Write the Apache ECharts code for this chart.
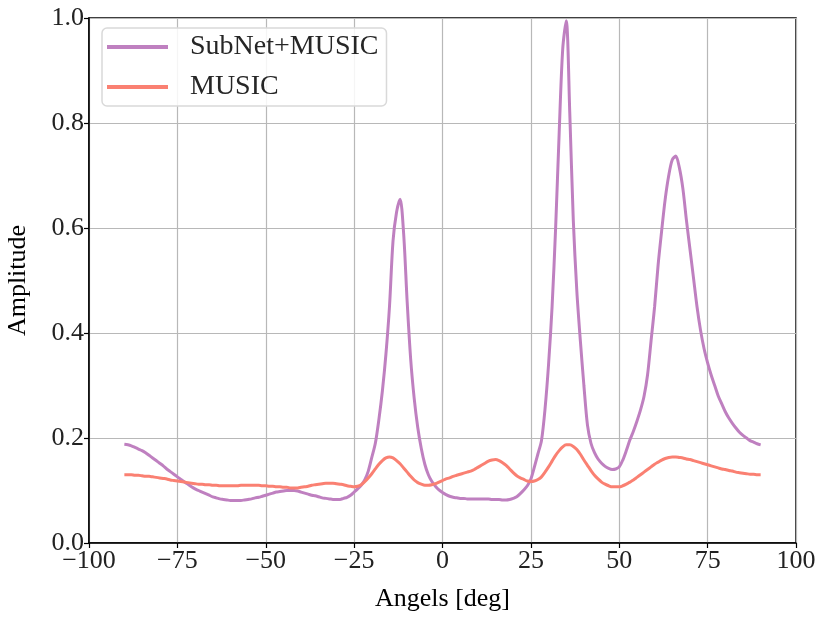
<!DOCTYPE html>
<html>
<head>
<meta charset="utf-8">
<script src="https://cdn.jsdelivr.net/npm/echarts@6/dist/echarts.min.js"></script>
<style>
html,body{margin:0;padding:0;background:#fff;}
#chart{width:830px;height:622px;}
</style>
</head>
<body>
<div id="chart"></div>
<script>
// SubNet+MUSIC spectrum: one value per degree, -90 .. 90
const subnetStart = -90;
const subnetStep = 1;
const subnetValues = [
  .188,.187,.185,.182,.179,.176,.172,.167,.162,.157,
  .152,.147,.141,.136,.131,.126,.121,.116,.112,.107,
  .103,.100,.097,.094,.091,.088,.086,.084,.083,.082,
  .081,.081,.081,.081,.082,.083,.084,.086,.087,.089,
  .091,.093,.095,.097,.098,.099,.100,.100,.100,.099,
  .097,.095,.093,.091,.090,.088,.086,.085,.084,.083,
  .083,.083,.085,.087,.091,.097,.103,.110,.120,.137,
  .163,.190,.235,.290,.360,.450,.575,.630,.655,.590,
  .460,.350,.275,.220,.180,.150,.130,.117,.108,.101,
  .096,.092,.089,.087,.086,.085,.085,.084,.084,.084,
  .084,.084,.084,.084,.083,.083,.083,.082,.082,.083,
  .085,.088,.094,.101,.109,.122,.145,.170,.195,.255,
  .340,.450,.600,.780,.940,.995,.820,.615,.480,.385,
  .300,.225,.190,.172,.160,.152,.146,.142,.140,.141,
  .145,.158,.176,.196,.213,.232,.253,.279,.320,.385,
  .450,.530,.595,.655,.700,.730,.737,.715,.675,.615,
  .560,.505,.450,.405,.370,.343,.320,.300,.280,.265,
  .250,.238,.228,.219,.211,.205,.200,.195,.192,.189,.187
];
// MUSIC spectrum: one value per degree, -90 .. 90
const musicStart = -90;
const musicStep = 1;
const musicValues = [
  .130,.130,.130,.129,.129,.128,.127,.127,.126,.125,
  .124,.123,.122,.120,.119,.118,.117,.116,.115,.114,
  .113,.112,.112,.111,.111,.110,.110,.109,.109,.109,
  .109,.109,.109,.110,.110,.110,.110,.110,.110,.109,
  .109,.108,.108,.107,.107,.106,.106,.105,.105,.105,
  .106,.107,.108,.110,.111,.112,.113,.114,.114,.114,
  .113,.112,.111,.109,.108,.107,.108,.111,.117,.124,
  .132,.141,.150,.157,.162,.164,.162,.157,.151,.143,
  .135,.127,.120,.115,.112,.110,.110,.111,.113,.116,
  .119,.122,.124,.127,.129,.131,.133,.135,.137,.140,
  .144,.148,.152,.156,.158,.159,.157,.153,.148,.141,
  .134,.128,.124,.121,.118,.117,.118,.121,.126,.135,
  .145,.156,.167,.176,.183,.187,.187,.184,.178,.169,
  .158,.148,.138,.129,.122,.116,.112,.109,.107,.107,
  .107,.109,.112,.116,.120,.125,.130,.135,.140,.145,
  .150,.154,.158,.161,.163,.164,.164,.163,.162,.160,
  .159,.157,.155,.153,.151,.149,.147,.145,.143,.141,
  .140,.138,.137,.135,.134,.133,.132,.131,.131,.130,.130
];
const xTicks = [-100,-75,-50,-25,0,25,50,75,100];
const yTicks = [0.0,0.2,0.4,0.6,0.8,1.0];

const FONT = 'Liberation Serif';
const chart = echarts.init(document.getElementById('chart'), null, {renderer:'canvas'});
const toPairs = (start, step, vals) => vals.map((v,i)=>[start + i*step, v]);
chart.setOption({
  animation:false,
  backgroundColor:'#fff',
  grid:{left:89,right:34,top:18,bottom:79,containLabel:false,outerBoundsMode:'none',
        show:true,borderColor:'#000',borderWidth:1.5,backgroundColor:'transparent'},
  legend:{
    orient:'vertical',left:102,top:28,
    data:['SubNet+MUSIC','MUSIC'],
    icon:'rect',itemWidth:61,itemHeight:4,itemGap:12,
    padding:[5,8,5,5],
    backgroundColor:'rgba(255,255,255,0.85)',borderColor:'#d9d9d9',borderWidth:1.5,borderRadius:5,
    textStyle:{fontFamily:FONT,fontSize:28,color:'#262626',padding:[0,0,0,17],lineHeight:28}
  },
  xAxis:{
    type:'value',min:xTicks[0],max:xTicks[xTicks.length-1],interval:25,
    name:'Angels [deg]',nameLocation:'middle',nameGap:43,
    nameTextStyle:{fontFamily:FONT,fontSize:26,color:'#000'},
    axisLine:{show:true,onZero:false,lineStyle:{color:'#000',width:1.5}},
    axisTick:{show:true,inside:false,length:5,lineStyle:{color:'#000',width:1.2}},
    axisLabel:{fontFamily:FONT,fontSize:26,color:'#222',margin:5,
      formatter:v=>(v<0?'\u2212'+Math.abs(v):String(v))},
    splitLine:{show:true,lineStyle:{color:'#b8b8b8',width:1.2}}
  },
  yAxis:{
    type:'value',min:yTicks[0],max:yTicks[yTicks.length-1],interval:0.2,
    name:'Amplitude',nameLocation:'middle',nameGap:58,nameRotate:90,
    nameTextStyle:{fontFamily:FONT,fontSize:26,color:'#000'},
    axisLine:{show:true,onZero:false,lineStyle:{color:'#000',width:1.5}},
    axisTick:{show:true,inside:false,length:5,lineStyle:{color:'#000',width:1.2}},
    axisLabel:{fontFamily:FONT,fontSize:26,color:'#222',margin:5,formatter:v=>v.toFixed(1)},
    splitLine:{show:true,lineStyle:{color:'#b8b8b8',width:1.2}}
  },
  series:[
    {name:'SubNet+MUSIC',type:'line',data:toPairs(subnetStart,subnetStep,subnetValues),smooth:0.3,
     showSymbol:false,symbol:'none',lineStyle:{color:'#bf80c0',width:3},itemStyle:{color:'#bf80c0'},z:3},
    {name:'MUSIC',type:'line',data:toPairs(musicStart,musicStep,musicValues),smooth:0.3,
     showSymbol:false,symbol:'none',lineStyle:{color:'#fa8072',width:3},itemStyle:{color:'#fa8072'},z:4}
  ]
});
</script>
</body>
</html>
